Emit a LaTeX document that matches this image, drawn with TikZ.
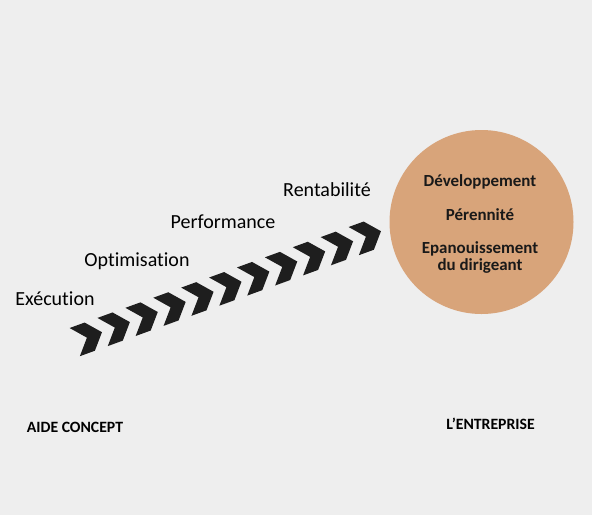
\documentclass[tikz,border=0pt]{standalone}
\usepackage{fontspec}
\setmainfont{Carlito}[Ligatures=NoCommon]
\usetikzlibrary{positioning}
\definecolor{fond}{RGB}{238,238,238}
\definecolor{sable}{RGB}{216,164,122}
\definecolor{fleche}{RGB}{30,30,30}
\tikzset{
  etape/.style={font=\fontsize{15}{18}\selectfont, text=black, anchor=base, inner sep=0pt},
  but texte/.style={font=\bfseries\fontsize{12.7}{15}\selectfont, text=black!90, anchor=base, inner sep=0pt},
  pied/.style={font=\bfseries\fontsize{11.8}{14}\selectfont, text=black, anchor=base, inner sep=0pt},
  chevron/.style={fill=fleche, draw=none},
  but/.style={circle, fill=sable, draw=none, minimum size=138pt, inner sep=0pt}
}

\begin{document}
\begin{tikzpicture}[x=0.75pt, y=-0.75pt]
    \fill[fond] (0,0) rectangle (592,515);
    \useasboundingbox (0,0) rectangle (592,515);

    % --- chevrons ---
    \foreach \i in {0,...,10} {
      \fill[chevron, shift={(86+27.9*\i, 338-10.1*\i)}, rotate=20]
        (-12,-15) -- (4,-15) -- (17,0) -- (4,15) -- (-12,15) -- (1,0) -- cycle;
    }

    % --- etapes ---
    \node[etape] (execution) at (55,305.5) {Exécution};
    \node[etape] (optimisation) at (137,266.5) {Optimisation};
    \node[etape] (performance) at (223,228.3) {Performance};
    \node[etape] (rentabilite) at (327,196) {Rentabilité};

    % --- cercle ---
    \node[but] (entreprise) at (481.5,222) {};
    \node[but texte] (dev) at (480,186.7) {Développement};
    \node[but texte] (perennite) at (480,220) {Pérennité};
    \node[but texte] (epanouissement) at (480,253) {Epanouissement};
    \node[but texte] (dirigeant) at (480,270) {du dirigeant};

    % --- pieds ---
    \node[pied] (aide) at (75,432) {AIDE CONCEPT};
    \node[pied] (lentreprise) at (490.5,429) {L’ENTREPRISE};
\end{tikzpicture}
\end{document}
